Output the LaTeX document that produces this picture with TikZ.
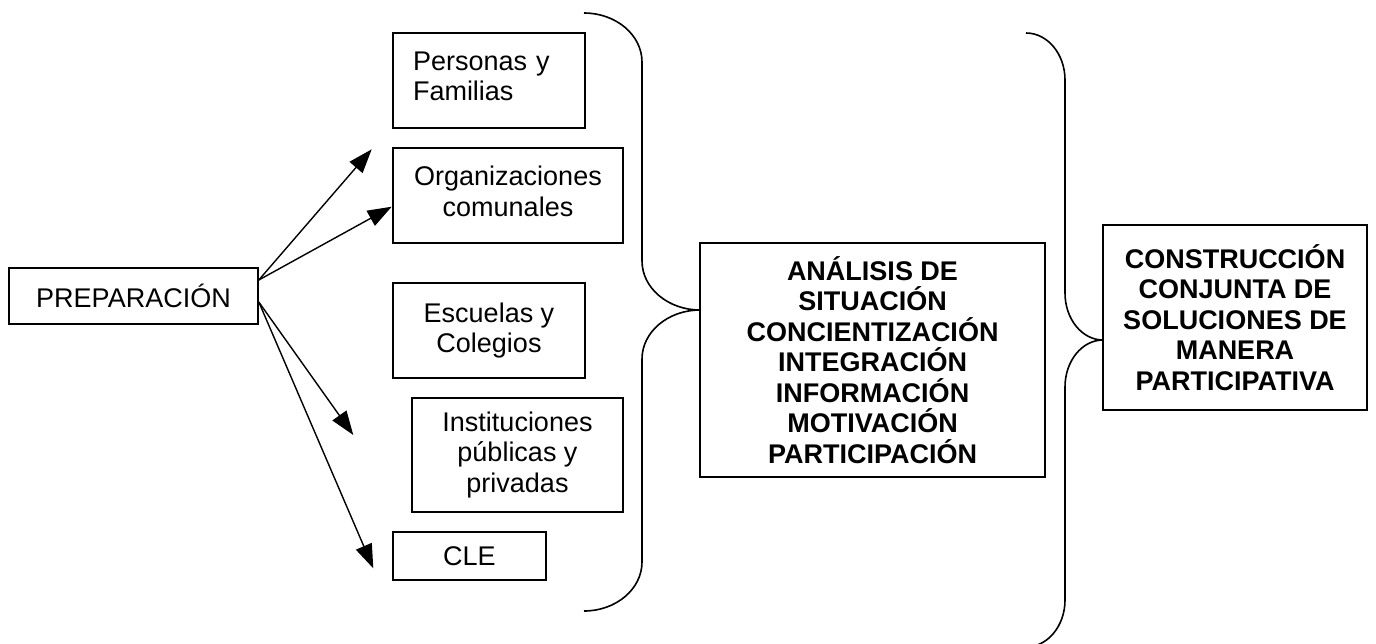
\documentclass[tikz,border=0pt]{standalone}
\usepackage{fontspec}
\setmainfont{Liberation Sans}
\usetikzlibrary{arrows.meta}
\begin{document}
\begin{tikzpicture}[x=1pt,y=-1pt,
  box/.style={draw,line width=1.6pt,rectangle,inner sep=0pt,align=center,
    font=\fontsize{27}{30.5}\selectfont},
  boldbox/.style={box,font=\fontsize{27}{30.5}\selectfont\bfseries},
  arr/.style={line width=1.4pt,-{Triangle[length=24pt,width=17pt]}},
  brace/.style={line width=1.6pt}]
\useasboundingbox (0,0) rectangle (1376,643);
% boxes
\node[box,minimum width=249pt,minimum height=56pt] (prep) at (133.5,296) {PREPARACIÓN};
\node[box,text width=152pt,align=left,inner xsep=20pt,minimum height=95pt] (pers) at (489,80.5) {Personas y\\Familias\rule[-9pt]{0pt}{1pt}};
\node[box,minimum width=230pt,minimum height=95pt] (organ) at (508,195.5) {Organizaciones\\comunales\rule[-9pt]{0pt}{1pt}};
\node[box,minimum width=192pt,minimum height=95pt] (esc) at (489,330.5) {Escuelas y\\Colegios};
\node[box,minimum width=211pt,minimum height=114pt] (inst) at (517.5,455) {Instituciones\\públicas y\\privadas};
\node[box,minimum width=153pt,minimum height=48pt] (cle) at (469.5,556) {CLE};
\node[boldbox,minimum width=345pt,minimum height=234pt] (anal) at (872.5,360) {ANÁLISIS DE\\SITUACIÓN\\CONCIENTIZACIÓN\\INTEGRACIÓN\\INFORMACIÓN\\MOTIVACIÓN\\PARTICIPACIÓN};
\node[boldbox,minimum width=264pt,minimum height=185pt] (cons) at (1235,317.5) {CONSTRUCCIÓN\\CONJUNTA DE\\SOLUCIONES DE\\MANERA\\PARTICIPATIVA};
% arrows
\coordinate (t1) at (371.7,149.3);
\coordinate (t2) at (391.7,206.7);
\coordinate (t3) at (353.3,435);
\coordinate (t4) at (373.3,568.3);
\draw[arr] ([yshift=16pt]prep.east) -- (t1);
\draw[arr] ([yshift=16pt]prep.east) -- (t2);
\draw[arr] ([yshift=-6pt]prep.east) -- (t3);
\draw[arr] ([yshift=-6pt]prep.east) -- (t4);
% left brace
\draw[brace] (584,13) .. controls (616,13) and (642,35) .. (642,62)
  -- (642,261) .. controls (642,288) and (668,310) .. (700,310)
  .. controls (668,310) and (642,332) .. (642,359)
  -- (642,562) .. controls (642,589) and (616,611) .. (584,611);
% right brace
\draw[brace] (1026,33) .. controls (1047.5,33) and (1065,54) .. (1065,80)
  -- (1065,293) .. controls (1065,319) and (1082,340) .. (1103,340)
  .. controls (1082,340) and (1065,361) .. (1065,387)
  -- (1065,600) .. controls (1065,626) and (1047.5,647) .. (1026,647);
\end{tikzpicture}
\end{document}
